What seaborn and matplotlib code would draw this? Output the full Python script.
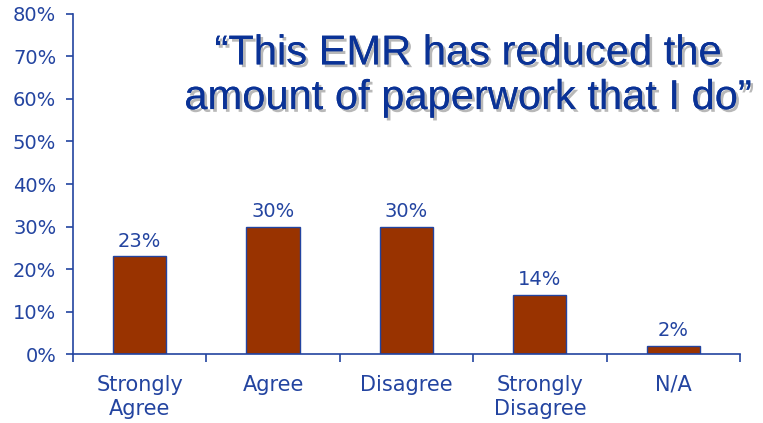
import matplotlib
matplotlib.use("Agg")
import matplotlib.pyplot as plt
import matplotlib.patheffects as pe
import seaborn as sns
import pandas as pd

# Survey responses
categories = ["Strongly\nAgree", "Agree", "Disagree", "Strongly\nDisagree", "N/A"]
values = [23, 30, 30, 14, 2]
y_ticks = [0, 10, 20, 30, 40, 50, 60, 70, 80]
y_tick_labels = [f"{v}%" for v in y_ticks]
title = "\u201cThis EMR has reduced the\namount of paperwork that I do\u201d"

BLUE = "#2344a0"
BAR = "#993300"

sns.set_theme(style="white")
plt.rcParams["font.family"] = ["DejaVu Sans"]

df = pd.DataFrame({"category": categories, "value": values})

fig = plt.figure(figsize=(7.63, 4.23), dpi=100)
ax = fig.add_axes([0.0957, 0.163, 0.874, 0.804])

sns.barplot(data=df, x="category", y="value", color=BAR, width=0.4,
            edgecolor=BLUE, linewidth=1.0, saturation=1, ax=ax)

ax.set_ylim(0, 80)
ax.set_xlim(-0.5, len(categories) - 0.5)

ax.set_yticks(y_ticks)
ax.set_yticklabels(y_tick_labels, color=BLUE, fontsize=14)
ax.tick_params(axis="y", direction="out", length=5, width=1.2, color=BLUE,
               left=True, pad=7)

# Major ticks on category boundaries, labels on minor ticks at centers
ax.set_xticks([i - 0.5 for i in range(len(categories) + 1)])
ax.set_xticklabels([])
ax.set_xticks(range(len(categories)), minor=True)
ax.set_xticklabels(categories, minor=True, color=BLUE, fontsize=15,
                   linespacing=1.25, va="top")
ax.tick_params(axis="x", which="major", direction="out", length=6, width=1.2,
               color=BLUE, bottom=True)
ax.tick_params(axis="x", which="minor", length=0, pad=15)

for s in ["top", "right"]:
    ax.spines[s].set_visible(False)
for s in ["left", "bottom"]:
    ax.spines[s].set_color(BLUE)
    ax.spines[s].set_linewidth(1.2)

ax.set_xlabel("")
ax.set_ylabel("")

for i, v in enumerate(values):
    ax.annotate(f"{v}%", (i, v), xytext=(0, 4), textcoords="offset points",
                ha="center", va="bottom", color=BLUE, fontsize=14)

fig.text(0.613, 0.821, title, ha="center", va="center", color="#0a3296",
         fontsize=30, family="Liberation Sans", linespacing=1.15,
         path_effects=[pe.withSimplePatchShadow(offset=(2, -2),
                                                shadow_rgbFace="#9a9a9a",
                                                alpha=0.7),
                       pe.Normal()])

fig.savefig("out.png", dpi=100)
